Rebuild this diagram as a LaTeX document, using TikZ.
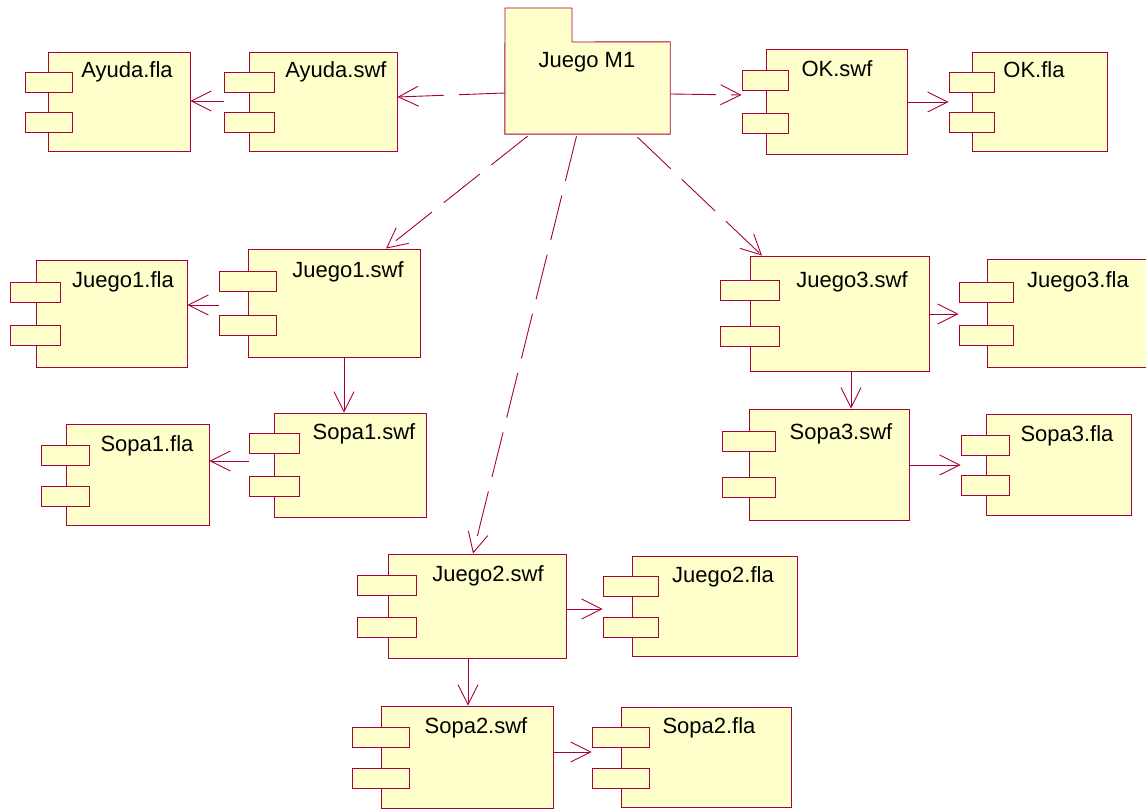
\documentclass[tikz,border=0pt]{standalone}
\usepackage{fontspec}
\setmainfont{Liberation Sans}
\usetikzlibrary{fit,calc,arrows.meta}
\definecolor{edge}{RGB}{168,0,58}
\definecolor{boxfill}{RGB}{255,255,204}
\tikzset{
  compbox/.style={draw=edge, fill=boxfill, line width=0.9pt, inner sep=0pt},
  lbl/.style={font=\fontsize{22}{26}\selectfont, anchor=base, inner sep=0pt, text=black},
  dep/.style={draw=edge, line width=0.9pt, -{Straight Barb[length=20pt,width=20pt]}},
  dashdep/.style={dep, dash pattern=on 46pt off 15pt},
}
% name, x1, y1, x2, y2, port x1, port x2, port1 top, port2 top
\newcommand\comp[9]{%
  \node[compbox, fit={(#2,#3) (#4,#5)}] (#1) {};
  \node[compbox, fit={(#6,#8) (#7,#8+20)}] (#1-p1) {};
  \node[compbox, fit={(#6,#9) (#7,#9+20)}] (#1-p2) {};
}
\begin{document}
\begin{tikzpicture}[x=1pt,y=-1pt]
\clip (0,0) rectangle (1146,810);
\fill[white] (0,0) rectangle (1146,810);

% package
\node[inner sep=0pt, fit={(505,42) (670,134)}] (m1) {};
\draw[compbox] (m1.south west) -- (505,8) -- (572,8) -- (572,42) -- (m1.north east) -- (m1.south east) -- cycle;
\node[lbl] (m1-l) at (587,68) {Juego M1};

% components
\comp{ayfla}{48}{52}{190}{151}{25}{72}{72}{112}
\comp{ayswf}{249}{52}{397}{151}{224}{274}{72}{112}
\comp{okswf}{766}{49}{907}{154}{742}{788}{70}{113}
\comp{okfla}{972}{52}{1107}{151}{949}{994}{72}{112}
\comp{jafla}{36}{260}{187}{367}{10}{60}{282}{325}
\comp{jaswf}{248}{249}{420}{357}{219}{276}{271}{315}
\comp{saswf}{274}{413}{426}{517}{249}{299}{433}{476}
\comp{safla}{66}{424}{209}{525}{41}{89}{445}{486}
\comp{jcswf}{750}{256}{929}{371}{720}{779}{280}{326}
\comp{jcfla}{987}{259}{1152}{367}{959}{1013}{282}{325}
\comp{scswf}{749}{409}{909}{520}{722}{775}{431}{477}
\comp{scfla}{986}{414}{1131}{515}{961}{1009}{435}{475}
\comp{jbswf}{388}{554}{566}{658}{357}{416}{575}{617}
\comp{jbfla}{632}{556}{797}{656}{603}{658}{576}{617}
\comp{sbswf}{381}{706}{553}{808}{352}{409}{727}{768}
\comp{sbfla}{621}{707}{791}{807}{592}{649}{727}{768}

% labels
\node[lbl] (ayfla-l) at (127,78) {Ayuda.fla};
\node[lbl] (ayswf-l) at (336,78) {Ayuda.swf};
\node[lbl] (okswf-l) at (837,77) {OK.swf};
\node[lbl] (okfla-l) at (1034,78) {OK.fla};
\node[lbl] (jafla-l) at (123,288) {Juego1.fla};
\node[lbl] (jaswf-l) at (348,278) {Juego1.swf};
\node[lbl] (safla-l) at (147,451) {Sopa1.fla};
\node[lbl] (saswf-l) at (364,439) {Sopa1.swf};
\node[lbl] (jcswf-l) at (852,288) {Juego3.swf};
\node[lbl] (jcfla-l) at (1078,288) {Juego3.fla};
\node[lbl] (scswf-l) at (841,439) {Sopa3.swf};
\node[lbl] (scfla-l) at (1067,441) {Sopa3.fla};
\node[lbl] (jbswf-l) at (488,581) {Juego2.swf};
\node[lbl] (jbfla-l) at (723,582) {Juego2.fla};
\node[lbl] (sbswf-l) at (476,733) {Sopa2.swf};
\node[lbl] (sbfla-l) at (709,733) {Sopa2.fla};

% dashed dependencies from the package
\draw[dashdep] (m1.west |- 0,93) -- (ayswf.east |- 0,97);
\draw[dashdep] (m1.east |- 0,94) -- (okswf-p1.west |- 0,95);
\draw[dashdep] ($(m1.south)+(-60,2)$) -- ($(jaswf.north)+(52,0)$);
\draw[dashdep] ($(m1.south)+(-11,2)$) -- ($(jbswf.north)+(-4,0)$);
\draw[dashdep] ($(m1.south)+(50,3)$) -- ($(jcswf.north)+(-77.5,0)$);

% solid dependencies
\draw[dep] (ayswf-p1.west |- 0,101) -- (ayfla.east |- 0,101);
\draw[dep] (okswf.east |- 0,102) -- (okfla-p1.west |- 0,102);
\draw[dep] (jaswf-p1.west |- 0,305) -- (jafla.east |- 0,305);
\draw[dep] (jaswf.south -| 344,0) -- (saswf.north -| 344,0);
\draw[dep] (saswf-p1.west |- 0,461) -- (safla.east |- 0,461);
\draw[dep] (jcswf.east |- 0,314) -- (jcfla-p1.west |- 0,314);
\draw[dep] (jcswf.south -| 851,0) -- (scswf.north -| 851,0);
\draw[dep] (scswf.east |- 0,465) -- (scfla-p1.west |- 0,465);
\draw[dep] (jbswf.east |- 0,609) -- (jbfla-p1.west |- 0,609);
\draw[dep] (jbswf.south -| 468,0) -- (sbswf.north -| 468,0);
\draw[dep] (sbswf.east |- 0,752) -- (sbfla-p1.west |- 0,752);
\end{tikzpicture}
\end{document}
